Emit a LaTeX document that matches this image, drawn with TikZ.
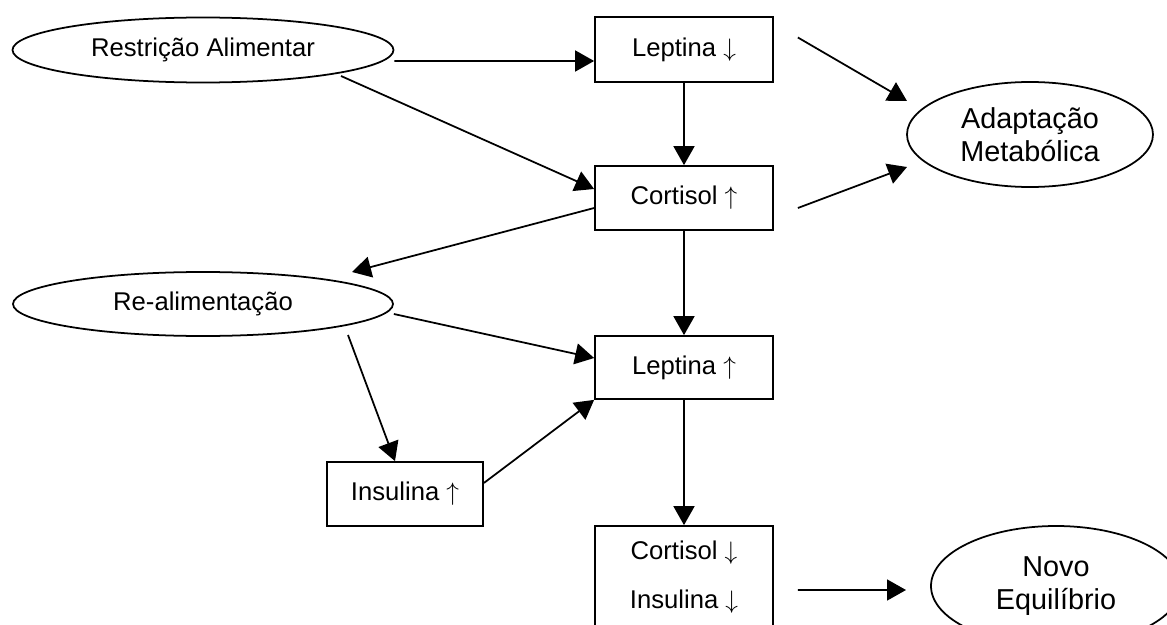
\documentclass[tikz,border=0pt]{standalone}
\usepackage{fontspec}
\setmainfont{Liberation Sans}
\usetikzlibrary{shapes.geometric,arrows.meta,calc}
\newlength\PX
\setlength\PX{0.02cm}
\newcommand\UpA{~$\uparrow$}
\newcommand\DnA{~$\downarrow$}
\begin{document}
\begin{tikzpicture}[x=0.02cm,y=-0.02cm,
  box/.style={draw,line width=1pt,rectangle,minimum width=178\PX,inner sep=0pt,
    font=\fontsize{14.6}{17}\selectfont},
  oval/.style={draw,line width=1pt,ellipse,inner sep=0pt,align=center},
  small/.style={font=\fontsize{14.6}{17}\selectfont},
  big/.style={font=\fontsize{16.4}{18.8}\selectfont},
  arr/.style={line width=1pt,-{Triangle[length=0.38cm,width=0.42cm]}}]
\useasboundingbox (0,0) rectangle (1167,625);
\clip (0,0) rectangle (1167,625);
% nodes
\node[oval,small,minimum width=381\PX,minimum height=65\PX] (rest) at (203,50) {Restrição Alimentar};
\node[box,minimum height=65\PX] (lep1) at (684,49.5) {Leptina\DnA};
\node[box,minimum height=64\PX] (cort1) at (684,198) {Cortisol\UpA};
\node[oval,big,minimum width=246\PX,minimum height=105\PX] (adapt) at (1030,134.5) {Adaptação\\Metabólica};
\node[oval,small,minimum width=380\PX,minimum height=64\PX] (realim) at (203,304) {Re-alimentação};
\node[box,minimum height=63\PX] (lep2) at (684,367.5) {Leptina\UpA};
\node[box,minimum width=156\PX,minimum height=64\PX] (ins) at (405,494) {Insulina\UpA};
\node[box,minimum height=103\PX] (cort2) at (684,577.5) {};
\node[small] (cort2a) at (684,553) {Cortisol\DnA};
\node[small] (cort2b) at (684,602) {Insulina\DnA};
\node[oval,big,minimum width=250\PX,minimum height=120\PX] (novo) at (1056,586) {Novo\\Equilíbrio};
% free ends
\coordinate (c2s) at (341,76);
\coordinate (c3e) at (907,101);
\coordinate (c4e) at (907,167);
\coordinate (c6e) at (352,272);
\coordinate (c8s) at (348,335);
\coordinate (c12e) at (906,590);
% connectors
\draw[arr] ($(rest.east)+(0,11)$) -- ($(lep1.west)+(0,11.5)$);
\draw[arr] (c2s) -- ($(cort1.west)+(0,-9)$);
\draw[arr] ($(lep1.east)+(24,-12)$) -- (c3e);
\draw[arr] ($(cort1.east)+(24,10)$) -- (c4e);
\draw[arr] (lep1) -- (cort1);
\draw[arr] ($(cort1.west)+(0,10)$) -- (c6e);
\draw[arr] ($(realim.east)+(0,10)$) -- ($(lep2.west)+(0,-9.5)$);
\draw[arr] (c8s) -- ($(ins.north)+(-10,0)$);
\draw[arr] ($(ins.east)+(0,-11)$) -- (lep2.south west);
\draw[arr] (cort1) -- (lep2);
\draw[arr] (lep2) -- (cort2);
\draw[arr] ($(cort2.east)+(24,12.5)$) -- (c12e);
\end{tikzpicture}
\end{document}
